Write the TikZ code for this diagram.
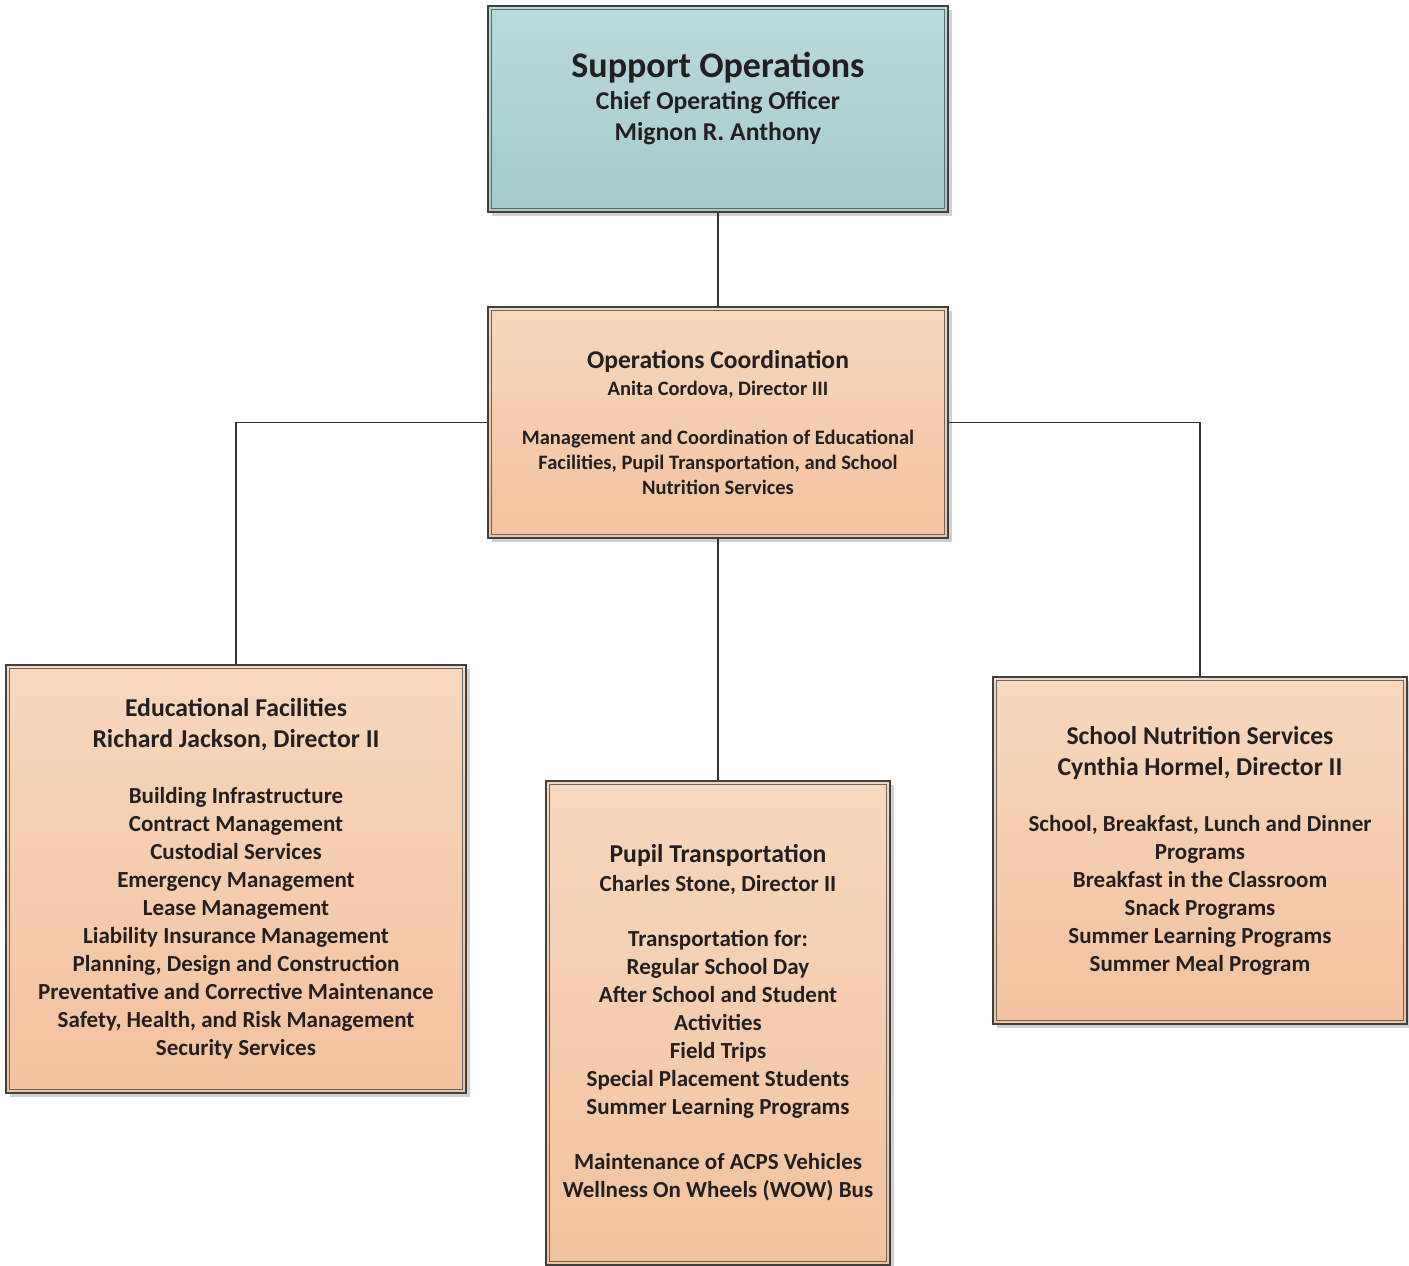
\documentclass[tikz,border=0pt]{standalone}
\usepackage{fontspec}
\setmainfont{Carlito}
\usetikzlibrary{shadows}
\usetikzlibrary{shapes}

\definecolor{tealtop}{HTML}{BADADC}
\definecolor{tealbot}{HTML}{A5CACB}
\definecolor{peachtop}{HTML}{F8D8BE}
\definecolor{peachbot}{HTML}{F2C29D}
\definecolor{inkgray}{HTML}{231F20}

\newcommand{\unittitle}[1]{{\fontsize{25.7}{31}\selectfont #1}}

\begin{document}
\begin{tikzpicture}[x=1pt,y=-1pt,
unit/.style={rectangle, draw=black!75, line width=1.4pt, align=center, inner sep=0pt,
  text=inkgray, font=\bfseries\fontsize{23}{28}\selectfont,
  top color=peachtop, bottom color=peachbot,
  drop shadow={shadow xshift=4pt, shadow yshift=-4pt, fill=black!18, opacity=1}},
head/.style={unit, top color=tealtop, bottom color=tealbot},
link/.style={draw=black!80, line width=1.6pt}]
\useasboundingbox[fill=white] (0,0) rectangle (1409,1266);

% boxes
\node[head, minimum width=460pt, minimum height=206pt, text depth=26pt,
  font=\bfseries\fontsize{25.7}{31}\selectfont] (top) at (718,109)
  {{\fontsize{36}{36}\selectfont Support Operations}\\[1pt]
   Chief Operating Officer\\ Mignon R. Anthony};
\node[unit, minimum width=460pt, minimum height=231pt,
  font=\bfseries\fontsize{20.5}{25}\selectfont] (coord) at (718,422.5)
  {{\fontsize{25.6}{27}\selectfont Operations Coordination}\\[2pt]
   Anita Cordova, Director III\\[24pt]
   Management and Coordination of Educational\\
   Facilities, Pupil Transportation, and School\\
   Nutrition Services};
\node[unit, minimum width=460pt, minimum height=428pt] (fac) at (236,879)
  {\unittitle{Educational Facilities}\\[3pt]
   \unittitle{Richard Jackson, Director II}\\[28pt]
   Building Infrastructure\\ Contract Management\\ Custodial Services\\
   Emergency Management\\ Lease Management\\ Liability Insurance Management\\
   Planning, Design and Construction\\ Preventative and Corrective Maintenance\\
   Safety, Health, and Risk Management\\ Security Services};
\node[unit, minimum width=344pt, minimum height=484pt] (pupil) at (718,1023)
  {\unittitle{Pupil Transportation}\\[1pt]
   Charles Stone, Director II\\[27pt]
   Transportation for:\\ Regular School Day\\ After School and Student\\
   Activities\\ Field Trips\\ Special Placement Students\\
   Summer Learning Programs\\[27pt]
   Maintenance of ACPS Vehicles\\ Wellness On Wheels (WOW) Bus};
\node[unit, minimum width=414pt, minimum height=347pt] (nutr) at (1200,850.5)
  {\unittitle{School Nutrition Services}\\[3pt]
   \unittitle{Cynthia Hormel, Director II}\\[28pt]
   School, Breakfast, Lunch and Dinner\\ Programs\\ Breakfast in the Classroom\\
   Snack Programs\\ Summer Learning Programs\\ Summer Meal Program};

% inner frame of each box
\foreach \n in {top,coord,fac,pupil,nutr}
  \draw[black!60, line width=0.8pt] ([shift={(4pt,-4pt)}]\n.north west)
    rectangle ([shift={(-4pt,4pt)}]\n.south east);

% reporting lines
\draw[link] (top) -- (coord);
\draw[link] (coord.west) -| (fac.north);
\draw[link] (coord.east) -| (nutr.north);
\draw[link] (coord) -- (pupil);
\end{tikzpicture}
\end{document}
